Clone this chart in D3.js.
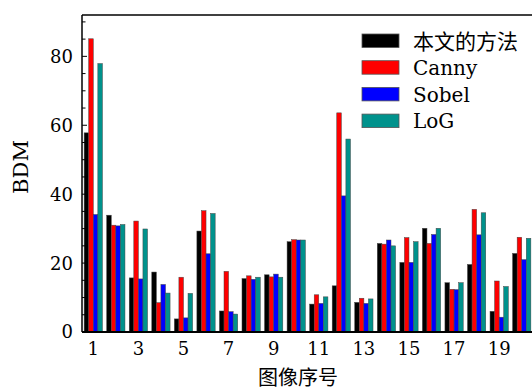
<!DOCTYPE html>
<html>
<head>
<meta charset="utf-8">
<script src="https://cdn.jsdelivr.net/npm/d3@7"></script>
<style>
  body { margin: 0; background: #fff; }
  svg text { font-family: "DejaVu Serif", "Liberation Serif", serif; fill: #000; }
  .cjk { font-family: "Noto Sans CJK SC", sans-serif !important; }
</style>
</head>
<body>
<div id="chart"></div>
<script>
// image index 1..20
var images = d3.range(1, 21);
var seriesNames = ["本文的方法", "Canny", "Sobel", "LoG"];
var seriesColors = ["#000000", "#ff0000", "#0000ff", "#00928c"];

var oursVals  = [57.8, 33.9, 15.7, 17.4, 3.8, 29.3, 6.1, 15.5, 16.6, 26.2, 8.1, 13.4, 8.6, 25.7, 20.2, 30.1, 14.3, 19.6, 6.0, 22.8];
var cannyVals = [85.1, 31.0, 32.2, 8.5, 15.9, 35.2, 17.6, 16.3, 16.0, 26.8, 10.8, 63.6, 9.8, 25.5, 27.4, 25.7, 12.4, 35.6, 14.8, 27.5];
var sobelVals = [34.1, 30.8, 15.4, 13.8, 4.1, 22.7, 5.9, 15.3, 16.8, 26.7, 8.3, 39.5, 8.3, 26.7, 20.2, 28.3, 12.3, 28.2, 4.3, 21.0];
var logVals   = [77.9, 31.2, 29.9, 11.3, 11.2, 34.4, 5.2, 15.9, 15.9, 26.7, 10.2, 56.0, 9.6, 25.0, 26.2, 30.1, 14.3, 34.6, 13.2, 27.2];

var xTickLabels = [1, 3, 5, 7, 9, 11, 13, 15, 17, 19];
var yTickLabels = [0, 20, 40, 60, 80];

var allSeries = [oursVals, cannyVals, sobelVals, logVals];

var width = 532, height = 392;
var margin = {top: 15, left: 82, bottom: 60};
var plotW = 451;

var svg = d3.select("#chart").append("svg")
    .attr("width", width)
    .attr("height", height);

// Scales
var x = d3.scaleLinear().domain([0.5, 20.5]).range([margin.left, margin.left + plotW]);
var y = d3.scaleLinear().domain([0, 92]).range([height - margin.bottom, margin.top]);

var pitch = x(2) - x(1);
var groupW = pitch * 0.81;
var barW = groupW / 4;

// Bars
allSeries.forEach(function(vals, s) {
    svg.append("g").selectAll("rect")
        .data(vals)
        .enter()
        .append("rect")
        .attr("x", function(d, i) { return x(images[i]) - groupW / 2 + s * barW; })
        .attr("y", function(d) { return y(d); })
        .attr("width", barW)
        .attr("height", function(d) { return y(0) - y(d); })
        .attr("fill", seriesColors[s])
        .attr("stroke", "#444")
        .attr("stroke-width", 0.5);
});

// Frame: left, top and bottom lines
svg.append("line")
    .attr("x1", x(0.5)).attr("x2", x(0.5))
    .attr("y1", y(92)).attr("y2", y(0))
    .attr("stroke", "#000").attr("stroke-width", 1.5);
svg.append("line")
    .attr("x1", x(0.5)).attr("x2", width)
    .attr("y1", y(92)).attr("y2", y(92))
    .attr("stroke", "#000").attr("stroke-width", 1.5);
svg.append("line")
    .attr("x1", x(0.5)).attr("x2", width)
    .attr("y1", y(0)).attr("y2", y(0))
    .attr("stroke", "#000").attr("stroke-width", 2);

// Y ticks (inward)
var minorTicks = d3.range(0, 92, 5);
svg.append("g").selectAll("line")
    .data(minorTicks)
    .enter()
    .append("line")
    .attr("x1", x(0.5))
    .attr("x2", function(d) { return x(0.5) + (d % 20 === 0 ? 5 : 3.5); })
    .attr("y1", function(d) { return y(d); })
    .attr("y2", function(d) { return y(d); })
    .attr("stroke", "#000")
    .attr("stroke-width", 1);

svg.append("g").selectAll("text")
    .data(yTickLabels)
    .enter()
    .append("text")
    .attr("x", x(0.5) - 9)
    .attr("y", function(d) { return y(d); })
    .attr("dy", "0.36em")
    .attr("text-anchor", "end")
    .attr("font-size", 18)
    .text(function(d) { return d; });

// X tick labels
svg.append("g").selectAll("text")
    .data(xTickLabels)
    .enter()
    .append("text")
    .attr("x", function(d) { return x(d); })
    .attr("y", y(0) + 23)
    .attr("text-anchor", "middle")
    .attr("font-size", 18)
    .text(function(d) { return d; });

// Axis titles
svg.append("text")
    .attr("transform", "translate(28,167) rotate(-90)")
    .attr("text-anchor", "middle")
    .attr("font-size", 21)
    .text("BDM");

svg.append("text")
    .attr("class", "cjk")
    .attr("x", 298)
    .attr("y", 385)
    .attr("text-anchor", "middle")
    .attr("font-size", 20)
    .text("图像序号");

// Legend
var legend = svg.append("g").attr("transform", "translate(362,34)");
seriesNames.forEach(function(name, i) {
    var row = legend.append("g").attr("transform", "translate(0," + i * 26.7 + ")");
    row.append("rect")
        .attr("width", 37)
        .attr("height", 13.5)
        .attr("fill", seriesColors[i])
        .attr("stroke", "#555")
        .attr("stroke-width", 0.8);
    row.append("text")
        .attr("class", i === 0 ? "cjk" : null)
        .attr("x", 51)
        .attr("y", 7)
        .attr("dy", "0.36em")
        .attr("font-size", i === 0 ? 21 : 20)
        .text(name);
});
</script>
</body>
</html>
